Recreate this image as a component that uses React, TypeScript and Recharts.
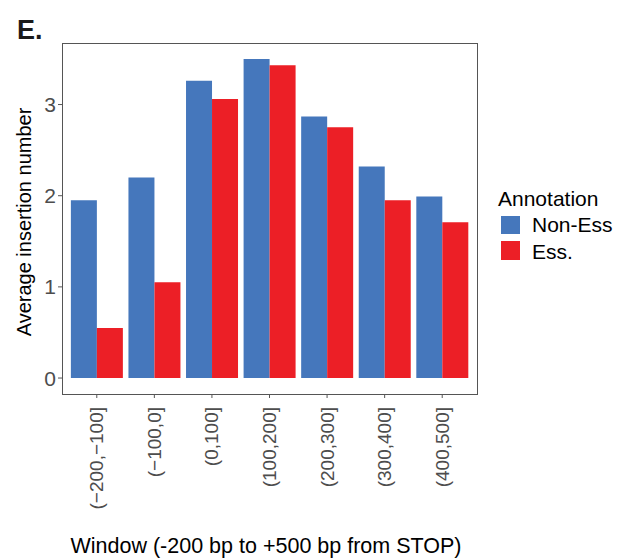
import React from "react";
import { Bar, BarChart, XAxis, YAxis } from "recharts";

const windows = ["(−200,−100]", "(−100,0]", "(0,100]", "(100,200]", "(200,300]", "(300,400]", "(400,500]"];
const nonEss = [1.95, 2.2, 3.26, 3.5, 2.87, 2.32, 1.99];
const ess = [0.55, 1.05, 3.06, 3.43, 2.75, 1.95, 1.71];
const yTicks = [0, 1, 2, 3];

const BLUE = "#4577BC";
const RED = "#EC1F26";
const FONT = "'Liberation Sans', Arial, Helvetica, sans-serif";

const data = windows.map((w, i) => ({ window: w, nonEss: nonEss[i], ess: ess[i] }));

const XTick = (props: any) => {
  const { x, y, payload } = props;
  const ty = y + 7;
  return (
    <text
      x={x}
      y={ty}
      transform={`rotate(-90, ${x}, ${ty})`}
      textAnchor="end"
      dominantBaseline="central"
      fill="#4d4d4d"
      fontSize={19}
      fontFamily={FONT}
    >
      {payload.value}
    </text>
  );
};

const App: React.FC = () => {
  return (
    <div style={{ position: "absolute", left: 0, top: 0, width: 618, height: 558, background: "#fff" }}>
      <BarChart
        width={618}
        height={558}
        data={data}
        margin={{ top: 43, right: 141, bottom: 50, left: 22 }}
        barCategoryGap="5%"
        barGap={0}
      >
        <XAxis
          dataKey="window"
          interval={0}
          padding={{ left: 6, right: 6 }}
          tick={<XTick />}
          tickSize={4}
          tickLine={{ stroke: "#555" }}
          axisLine={false}
          height={114}
        />
        <YAxis
          type="number"
          domain={[-0.175, 3.675]}
          ticks={yTicks}
          width={40}
          tickSize={4}
          tickLine={{ stroke: "#555" }}
          axisLine={false}
          tick={{ fill: "#4d4d4d", fontSize: 21, fontFamily: FONT }}
        />
        <Bar dataKey="nonEss" name="Non-Ess" fill={BLUE} isAnimationActive={false} />
        <Bar dataKey="ess" name="Ess." fill={RED} isAnimationActive={false} />
      </BarChart>
      <svg
        width={618}
        height={558}
        style={{ position: "absolute", left: 0, top: 0, pointerEvents: "none" }}
        fontFamily={FONT}
      >
        {/* panel border */}
        <rect x={62.5} y={43.5} width={415} height={351} fill="none" stroke="#555" strokeWidth={1} />
        <text x={17} y={39} fontSize={27} fontWeight="bold" fill="#1a1a1a">
          E.
        </text>
        <text x={31} y={222} transform="rotate(-90, 31, 222)" textAnchor="middle" fontSize={20} fill="#000">
          Average insertion number
        </text>
        <text x={266} y={553} textAnchor="middle" fontSize={21.5} fill="#000">
          Window (-200 bp to +500 bp from STOP)
        </text>
        {/* legend */}
        <text x={498} y={206} fontSize={21} fill="#000">
          Annotation
        </text>
        <rect x={501} y={216} width={19} height={18} fill={BLUE} />
        <rect x={501} y={241} width={19} height={19} fill={RED} />
        <text x={532} y={232} fontSize={21} fill="#000">
          Non-Ess
        </text>
        <text x={532} y={259} fontSize={21} fill="#000">
          Ess.
        </text>
      </svg>
    </div>
  );
};

export default App;
